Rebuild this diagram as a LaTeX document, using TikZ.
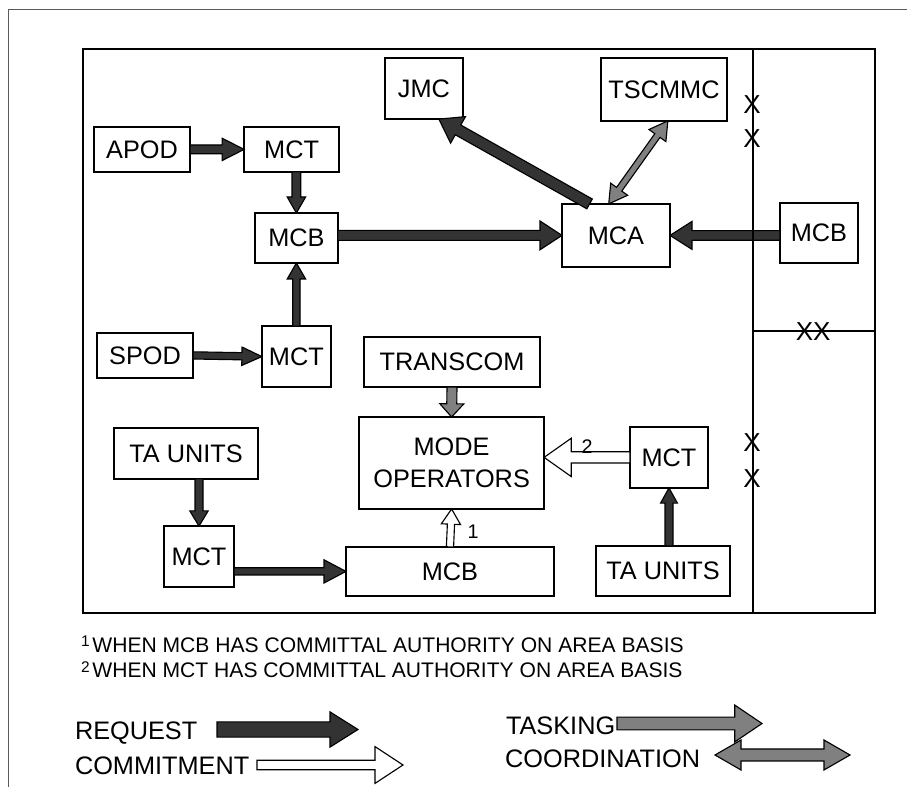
\documentclass[tikz,border=0pt]{standalone}
\usepackage{fontspec}
\setmainfont{Liberation Sans}
\usepackage{tikz}
\usetikzlibrary{calc}
\definecolor{MCInk}{RGB}{0,0,0}
\definecolor{MCFrame}{RGB}{90,90,90}
\definecolor{MCRequest}{RGB}{51,51,51}
\definecolor{MCTasking}{RGB}{128,128,128}

% block arrow: style, tail, tip, shaft half width, head half width, head length
\newcommand{\blockflow}[6]{%
  \coordinate (bfhead) at ($(#3)!#6!(#2)$);
  \draw[#1] ($(#2)!#4!90:(#3)$) -- ($(bfhead)!#4!90:(#3)$) -- ($(bfhead)!#5!90:(#3)$) -- (#3)
    -- ($(bfhead)!#5!-90:(#3)$) -- ($(bfhead)!#4!-90:(#3)$) -- ($(#2)!#4!-90:(#3)$) -- cycle;
}
% two-headed block arrow, same arguments
\newcommand{\twowayflow}[6]{%
  \coordinate (twhead) at ($(#2)!#6!(#3)$);
  \coordinate (twtail) at ($(#3)!#6!(#2)$);
  \draw[#1] (#2) -- ($(twhead)!#5!90:(#3)$) -- ($(twhead)!#4!90:(#3)$) -- ($(twtail)!#4!90:(#3)$)
    -- ($(twtail)!#5!90:(#3)$) -- (#3) -- ($(twtail)!#5!-90:(#3)$) -- ($(twtail)!#4!-90:(#3)$)
    -- ($(twhead)!#4!-90:(#3)$) -- ($(twhead)!#5!-90:(#3)$) -- cycle;
}
\newcommand{\fnmark}[1]{\raisebox{0.27em}{\fontsize{11}{11}\selectfont #1}}

\begin{document}
\begin{tikzpicture}[
x=1cm,
y=1cm,
every node/.style={font=\fontsize{18}{22.5}\selectfont,text=MCInk,inner sep=0pt,outer sep=0pt},
unitbox/.style={draw=MCInk,fill=white,line width=1.1pt,align=center},
crossmark/.style={font=\fontsize{18.5}{18.5}\selectfont},
flowlabel/.style={font=\fontsize{14}{14}\selectfont},
footnote/.style={font=\fontsize{15}{16}\selectfont},
legendtext/.style={font=\fontsize{18}{20}\selectfont},
requestflow/.style={draw=MCInk,fill=MCRequest,line width=0.8pt,line join=miter},
commitflow/.style={draw=MCInk,fill=white,line width=0.8pt,line join=miter},
taskflow/.style={draw=MCInk,fill=MCTasking,line width=0.8pt,line join=miter}
]

\path[use as bounding box] (0,0) rectangle (22.675,19.675);

\draw[draw=MCFrame,line width=0.7pt] (0.2,0) -- (0.2,19.45) -- (22.675,19.45);
\draw[draw=MCInk,line width=1.1pt] (2.075,4.35) rectangle (18.825,18.45);

\node[unitbox,minimum width=1.95cm,minimum height=1.525cm] (jmc) at (10.60,17.46) {JMC};
\node[unitbox,minimum width=3.15cm,minimum height=1.575cm] (tscmmc) at (16.60,17.44) {TSCMMC};
\node[unitbox,minimum width=2.40cm,minimum height=1.125cm] (apod) at (3.55,15.94) {APOD};
\node[unitbox,minimum width=2.375cm,minimum height=1.125cm] (apodmct) at (7.29,15.94) {MCT};
\node[unitbox,minimum width=2.075cm,minimum height=1.25cm] (podmcb) at (7.41,13.725) {MCB};
\node[unitbox,minimum width=2.70cm,minimum height=1.575cm] (mca) at (15.40,13.79) {MCA};
\node[unitbox,minimum width=1.95cm,minimum height=1.50cm] (adjmcb) at (20.475,13.85) {MCB};
\node[unitbox,minimum width=2.40cm,minimum height=1.125cm] (spod) at (3.625,10.79) {SPOD};
\node[unitbox,minimum width=1.725cm,minimum height=1.525cm] (spodmct) at (7.41,10.76) {MCT};
\node[unitbox,minimum width=4.40cm,minimum height=1.25cm] (transcom) at (11.30,10.625) {TRANSCOM};
\node[unitbox,minimum width=4.625cm,minimum height=2.30cm] (modeops) at (11.29,8.10) {MODE\\OPERATORS};
\node[unitbox,minimum width=3.60cm,minimum height=1.275cm] (tawest) at (4.65,8.34) {TA UNITS};
\node[unitbox,minimum width=1.75cm,minimum height=1.525cm] (tawestmct) at (4.975,5.76) {MCT};
\node[unitbox,minimum width=5.20cm,minimum height=1.225cm] (areamcb) at (11.25,5.39) {MCB};
\node[unitbox,minimum width=1.95cm,minimum height=1.525cm] (taeastmct) at (16.725,8.24) {MCT};
\node[unitbox,minimum width=3.35cm,minimum height=1.25cm] (taeast) at (16.575,5.40) {TA UNITS};

\coordinate (apodmctS) at (podmcb.north |- apodmct.south);
\coordinate (podmcbS) at (spodmct.north |- podmcb.south);
\coordinate (podmcbE) at (podmcb.east |- mca.west);
\coordinate (adjmcbW) at (adjmcb.west |- mca.east);
\coordinate (tawestS) at (tawestmct.north |- tawest.south);
\coordinate (tawestmctE) at (tawestmct.east |- areamcb.west);
\coordinate (modeopsE) at (modeops.east |- taeastmct.west);
\coordinate (taeastN) at (taeast.north -| taeastmct.south);

\blockflow{requestflow}{apod.east}{apodmct.west}{0.11cm}{0.28cm}{0.55cm}
\blockflow{requestflow}{apodmctS}{podmcb.north}{0.11cm}{0.23cm}{0.40cm}
\blockflow{requestflow}{spod.east}{spodmct.west}{0.09cm}{0.23cm}{0.50cm}
\blockflow{requestflow}{spodmct.north}{podmcbS}{0.09cm}{0.23cm}{0.40cm}
\blockflow{requestflow}{podmcbE}{mca.west}{0.125cm}{0.36cm}{0.55cm}
\blockflow{requestflow}{adjmcbW}{mca.east}{0.12cm}{0.35cm}{0.55cm}
\blockflow{requestflow}{mca.130}{jmc.-64}{0.14cm}{0.38cm}{0.55cm}
\twowayflow{taskflow}{mca.103}{tscmmc.-83}{0.08cm}{0.26cm}{0.45cm}
\blockflow{taskflow}{transcom.south}{modeops.north}{0.125cm}{0.30cm}{0.33cm}
\blockflow{requestflow}{tawestS}{tawestmct.north}{0.10cm}{0.23cm}{0.38cm}
\blockflow{requestflow}{tawestmctE}{areamcb.west}{0.09cm}{0.29cm}{0.55cm}
\blockflow{commitflow}{areamcb.north}{modeops.south}{0.09cm}{0.24cm}{0.38cm}
\blockflow{commitflow}{taeastmct.west}{modeopsE}{0.14cm}{0.48cm}{0.68cm}
\blockflow{requestflow}{taeastN}{taeastmct.south}{0.10cm}{0.21cm}{0.38cm}

\node[flowlabel] (onelabel) at (11.825,6.375) {1};
\node[flowlabel] (twolabel) at (14.675,8.50) {2};

% adjacent sector column
\draw[draw=MCInk,line width=1.6pt] (18.825,4.35) rectangle (21.875,18.45);
\draw[draw=MCInk,line width=1.1pt] (18.825,11.40) -- (21.875,11.40);

\node[crossmark] (xnorthA) at (18.80,17.05) {X};
\node[crossmark] (xnorthB) at (18.80,16.20) {X};
\node[crossmark] (xsouthA) at (18.80,8.60) {X};
\node[crossmark] (xsouthB) at (18.80,7.70) {X};
\node[crossmark] (xdivide) at (20.33,11.38) {XX};

\node[footnote,anchor=base west] (noteone) at (2.025,3.36) {\fnmark{1}\hspace{2pt}WHEN MCB HAS COMMITTAL AUTHORITY ON AREA BASIS};
\node[footnote,anchor=base west] (notetwo) at (2.025,2.725) {\fnmark{2}\hspace{2pt}WHEN MCT HAS COMMITTAL AUTHORITY ON AREA BASIS};

\node[legendtext,anchor=base west] (request) at (1.875,1.175) {REQUEST};
\node[legendtext,anchor=base west] (commitment) at (1.875,0.30) {COMMITMENT};
\node[legendtext,anchor=base west] (tasking) at (12.65,1.325) {TASKING};
\node[legendtext,anchor=base west] (coordination) at (12.63,0.475) {COORDINATION};

\coordinate (requestA) at (5.425,1.4375);
\coordinate (requestB) at (8.95,1.4375);
\coordinate (commitA) at (6.425,0.55);
\coordinate (commitB) at (10.075,0.55);
\coordinate (taskA) at (15.425,1.5875);
\coordinate (taskB) at (19.05,1.5875);
\coordinate (coordA) at (17.875,0.80);
\coordinate (coordB) at (21.25,0.80);

\blockflow{requestflow}{requestA}{requestB}{0.19cm}{0.44cm}{0.70cm}
\blockflow{commitflow}{commitA}{commitB}{0.12cm}{0.46cm}{0.70cm}
\blockflow{taskflow}{taskA}{taskB}{0.16cm}{0.46cm}{0.68cm}
\twowayflow{taskflow}{coordA}{coordB}{0.15cm}{0.375cm}{0.65cm}

\end{tikzpicture}
\end{document}
